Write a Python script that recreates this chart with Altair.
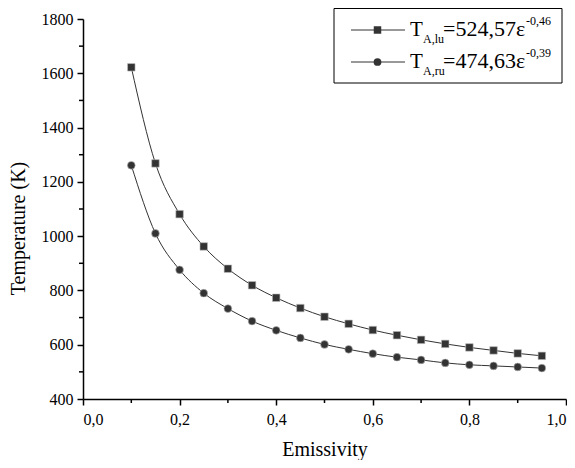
import altair as alt
import pandas as pd

emissivity = [0.10, 0.15, 0.20, 0.25, 0.30, 0.35, 0.40, 0.45, 0.50, 0.55,
              0.60, 0.65, 0.70, 0.75, 0.80, 0.85, 0.90, 0.95]
t_lu = [1622, 1268, 1081, 962, 880, 819, 773, 735, 703, 677,
        654, 635, 618, 603, 590, 579, 568, 559]
t_ru = [1261, 1010, 876, 790, 733, 687, 653, 625, 601, 583,
        567, 554, 544, 533, 526, 522, 518, 514]
x_major = [0.0, 0.2, 0.4, 0.6, 0.8, 1.0]
x_minor = [0.1, 0.3, 0.5, 0.7, 0.9]
y_major = [400, 600, 800, 1000, 1200, 1400, 1600, 1800]
y_minor = [500, 700, 900, 1100, 1300, 1500, 1700]

FONT = "'Liberation Serif', 'Times New Roman', 'DejaVu Serif', serif"
INK = "#333333"

df_lu = pd.DataFrame({"e": emissivity, "T": t_lu})
df_ru = pd.DataFrame({"e": emissivity, "T": t_ru})

xs = alt.Scale(domain=[0, 1], nice=False)
ys = alt.Scale(domain=[400, 1800], nice=False)

xaxis = alt.Axis(values=x_major, labelExpr="replace(format(datum.value, '.1f'), '.', ',')",
                 title="Emissivity", grid=False, tickSize=6, labelPadding=6,
                 titlePadding=12, domainColor="black", tickColor="black",
                 domainWidth=1.5, tickWidth=1.5)
yaxis = alt.Axis(values=y_major, format="d", title="Temperature (K)", grid=False,
                 tickSize=6, labelPadding=4, domainColor="black", tickColor="black",
                 domainWidth=1.5, tickWidth=1.5, titleY=209, titleX=-55,
                 titleBaseline="bottom")

def series(df, shape, size):
    line = alt.Chart(df).mark_line(color=INK, strokeWidth=1, interpolate="monotone").encode(
        x=alt.X("e:Q", scale=xs, axis=xaxis), y=alt.Y("T:Q", scale=ys, axis=yaxis))
    pts = alt.Chart(df).mark_point(shape=shape, size=size, filled=True, fill=INK,
                                   stroke="#bbbbbb", strokeWidth=0.6, opacity=1).encode(
        x=alt.X("e:Q", scale=xs), y=alt.Y("T:Q", scale=ys))
    return [line, pts]

minor_x = alt.Chart(pd.DataFrame({"v": x_minor})).mark_rule(color="black", strokeWidth=1.5).encode(
    x=alt.X("v:Q", scale=xs), y=alt.value(380), y2=alt.value(384))
minor_y = alt.Chart(pd.DataFrame({"v": y_minor})).mark_rule(color="black", strokeWidth=1.5).encode(
    y=alt.Y("v:Q", scale=ys), x=alt.value(0), x2=alt.value(-4))

one = pd.DataFrame({"k": [0]})
box = alt.Chart(one).mark_rect(fill="white", stroke="black", strokeWidth=1).encode(
    x=alt.value(251), x2=alt.value(479), y=alt.value(-10.5), y2=alt.value(64))

legend_layers = [box]
rows = [("square", 56, "A,lu", "=524,57ε", "-0,46"),
        ("circle", 60, "A,ru", "=474,63ε", "-0,39")]
for i, (shape, size, sub, main, sup) in enumerate(rows):
    dy = 32 * i
    legend_layers.append(alt.Chart(one).mark_rule(color=INK, strokeWidth=1).encode(
        x=alt.value(268), x2=alt.value(322), y=alt.value(11 + dy)))
    legend_layers.append(alt.Chart(one).mark_point(shape=shape, size=size, filled=True,
                                                   fill=INK, opacity=1).encode(
        x=alt.value(294.5), y=alt.value(11 + dy)))
    legend_layers.append(alt.Chart(one).mark_text(text="T", font=FONT, fontSize=21,
                                                  align="left", baseline="alphabetic",
                                                  color="black").encode(
        x=alt.value(327), y=alt.value(17 + dy)))
    legend_layers.append(alt.Chart(one).mark_text(text=sub, font=FONT, fontSize=12,
                                                  align="left", baseline="alphabetic",
                                                  color="black").encode(
        x=alt.value(340), y=alt.value(24 + dy)))
    legend_layers.append(alt.Chart(one).mark_text(text=main, font=FONT, fontSize=22,
                                                  align="left", baseline="alphabetic",
                                                  color="black").encode(
        x=alt.value(360), y=alt.value(17 + dy)))
    legend_layers.append(alt.Chart(one).mark_text(text=sup, font=FONT, fontSize=12,
                                                  align="left", baseline="alphabetic",
                                                  color="black").encode(
        x=alt.value(443), y=alt.value(6 + dy)))

chart = alt.layer(
    *series(df_lu, "square", 56), *series(df_ru, "circle", 60),
    minor_x, minor_y, *legend_layers
).properties(
    width=483, height=380,
    autosize=alt.AutoSizeParams(type="none"),
    padding={"left": 75, "top": 11, "right": 1, "bottom": 61},
).configure_view(stroke=None).configure_axis(
    labelFont=FONT, titleFont=FONT, labelFontSize=16, titleFontSize=20,
    labelColor="black", titleColor="black", titleFontWeight="normal"
)

chart.save("out.html", embed_options={"renderer": "svg", "actions": False})
